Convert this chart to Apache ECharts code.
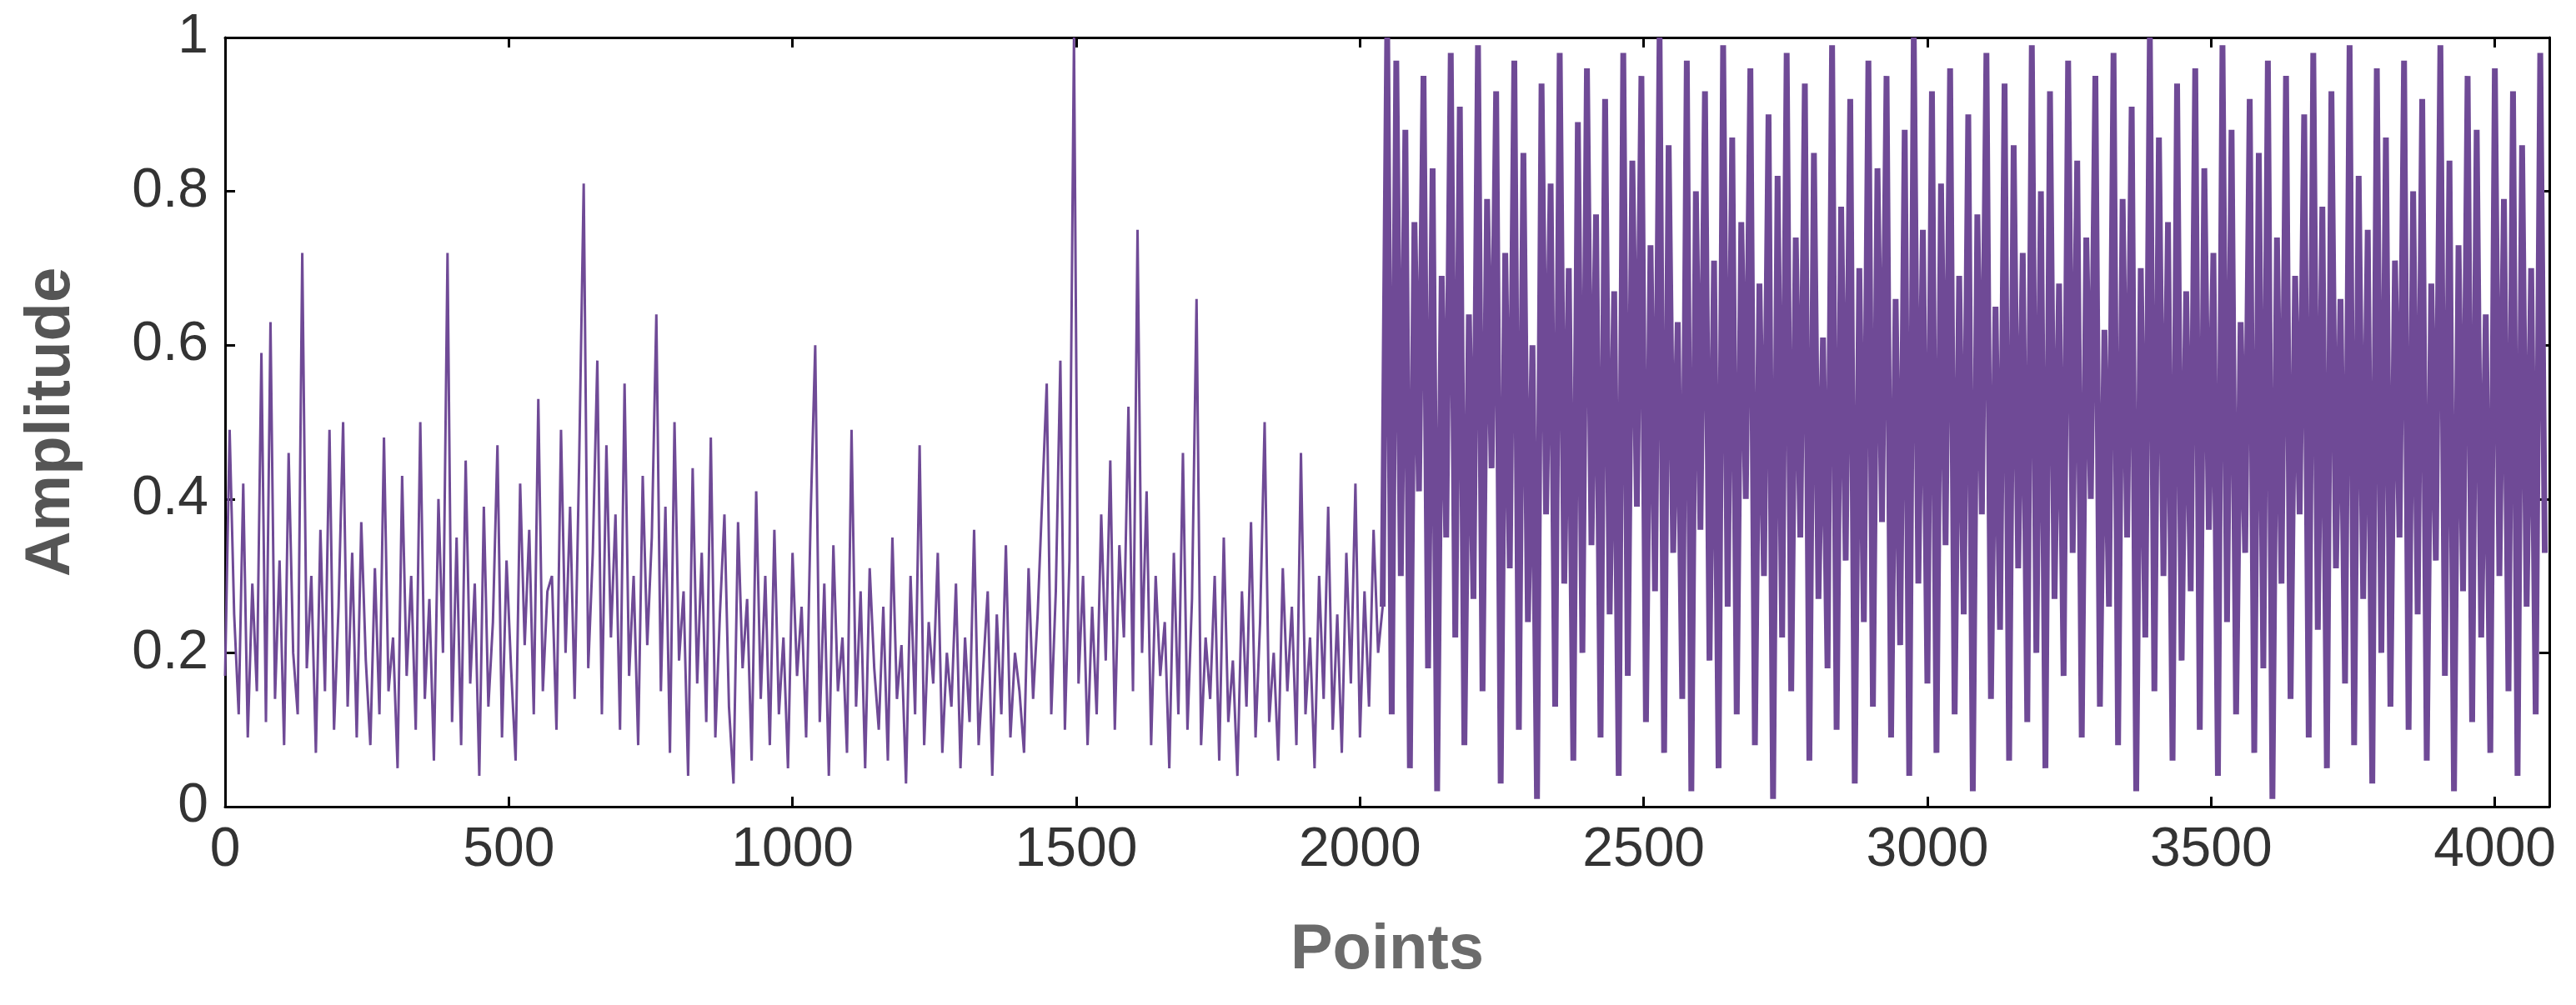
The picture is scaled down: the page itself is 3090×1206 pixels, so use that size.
<!DOCTYPE html>
<html><head><meta charset="utf-8">
<script src="https://cdn.jsdelivr.net/npm/echarts@6/dist/echarts.min.js"></script>
<style>html,body{margin:0;padding:0;background:#fff}#c{width:3090px;height:1206px}</style>
</head><body><div id="c"></div>
<script>
const step = 8;
const lowHalf = [
0.17,0.49,0.25,0.12,0.42,0.09,0.29,0.15,0.59,0.11,0.63,0.14,0.32,0.08,0.46,0.2,
0.12,0.72,0.18,0.3,0.07,0.36,0.15,0.49,0.1,0.26,0.5,0.13,0.33,0.09,0.37,0.19,
0.08,0.31,0.12,0.48,0.15,0.22,0.05,0.43,0.17,0.3,0.1,0.5,0.14,0.27,0.06,0.4,
0.2,0.72,0.11,0.35,0.08,0.45,0.16,0.29,0.04,0.39,0.13,0.24,0.47,0.09,0.32,0.18,
0.06,0.42,0.21,0.36,0.12,0.53,0.15,0.28,0.3,0.1,0.49,0.2,0.39,0.14,0.45,0.81,
0.18,0.33,0.58,0.12,0.47,0.22,0.38,0.1,0.55,0.17,0.3,0.08,0.43,0.21,0.35,0.64,
0.15,0.39,0.07,0.5,0.19,0.28,0.04,0.44,0.16,0.33,0.11,0.48,0.09,0.25,0.38,0.13,
0.03,0.37,0.18,0.27,0.06,0.41,0.14,0.3,0.08,0.36,0.12,0.22,0.05,0.33,0.17,0.26,
0.09,0.38,0.6,0.11,0.29,0.04,0.34,0.15,0.22,0.07,0.49,0.13,0.28,0.05,0.31,0.18,
0.1,0.26,0.06,0.35,0.14,0.21,0.03,0.3,0.12,0.47,0.08,0.24,0.16,0.33,0.07,0.2,
0.13,0.29,0.05,0.22,0.11,0.36,0.08,0.18,0.28,0.04,0.25,0.12,0.34,0.09,0.2,0.15,
0.07,0.31,0.14,0.25,0.4,0.55,0.12,0.28,0.58,0.1,0.32,1.0,0.16,0.3,0.08,0.26,
0.12,0.38,0.19,0.45,0.1,0.34,0.22,0.52,0.15,0.75,0.2,0.41,0.08,0.3,0.17,0.24,
0.05,0.33,0.12,0.46,0.1,0.27,0.66,0.08,0.22,0.14,0.3,0.06,0.35,0.11,0.19,0.04,
0.28,0.13,0.37,0.09,0.24,0.5,0.11,0.2,0.06,0.31,0.15,0.26,0.08,0.46,0.12,0.22,
0.05,0.3,0.14,0.39,0.1,0.25,0.07,0.33,0.16,0.42,0.09,0.28,0.13,0.36,0.2,0.26
];
const highHalf = [
1.0,0.12,0.97,0.3,0.88,0.05,0.76,0.41,0.95,0.18,0.83,0.02,0.69,0.35,0.98,0.22,
0.91,0.08,0.64,0.27,0.99,0.15,0.79,0.44,0.93,0.03,0.72,0.31,0.97,0.1,0.85,0.24,
0.6,0.01,0.94,0.38,0.81,0.13,0.98,0.29,0.7,0.06,0.89,0.2,0.96,0.34,0.77,0.09,
0.92,0.25,0.67,0.04,0.98,0.17,0.84,0.39,0.95,0.11,0.73,0.28,1.0,0.07,0.86,0.33,
0.63,0.14,0.97,0.02,0.8,0.36,0.93,0.19,0.71,0.05,0.99,0.26,0.87,0.12,0.76,0.4,
0.96,0.08,0.68,0.3,0.9,0.01,0.82,0.22,0.98,0.15,0.74,0.35,0.94,0.06,0.85,0.27,
0.61,0.18,0.99,0.1,0.78,0.32,0.92,0.03,0.7,0.24,0.97,0.13,0.83,0.37,0.95,0.09,
0.66,0.21,0.88,0.04,1.0,0.29,0.75,0.16,0.93,0.07,0.81,0.34,0.96,0.12,0.69,0.25,
0.9,0.02,0.77,0.38,0.98,0.14,0.65,0.23,0.94,0.06,0.86,0.31,0.72,0.11,0.99,0.2,
0.8,0.05,0.93,0.27,0.68,0.17,0.97,0.33,0.84,0.09,0.74,0.4,0.95,0.13,0.62,0.26,
0.98,0.08,0.79,0.35,0.91,0.02,0.7,0.22,1.0,0.15,0.87,0.3,0.76,0.06,0.94,0.19,
0.67,0.28,0.96,0.1,0.83,0.36,0.72,0.04,0.99,0.24,0.88,0.12,0.63,0.33,0.92,0.07,
0.85,0.18,0.97,0.01,0.74,0.29,0.95,0.14,0.69,0.38,0.9,0.09,0.98,0.23,0.78,0.05,
0.93,0.31,0.66,0.16,0.99,0.08,0.82,0.27,0.75,0.03,0.96,0.2,0.87,0.13,0.71,0.35,
0.97,0.1,0.8,0.25,0.92,0.06,0.68,0.32,0.99,0.17,0.84,0.02,0.73,0.28,0.95,0.11,
0.88,0.22,0.64,0.07,0.96,0.3,0.79,0.15,0.93,0.04,0.86,0.26,0.7,0.12,0.98,0.33
];
const lowData = lowHalf.map((v,i)=>[i*step, v]);
const highData = [[(lowHalf.length-1)*step, lowHalf[lowHalf.length-1]]].concat(
  highHalf.map((v,i)=>[(lowHalf.length+i)*step, v]));
const F = 'Arial, "Liberation Sans", sans-serif';
const axBase = {
  axisLine:{show:true,onZero:false,lineStyle:{color:'#000',width:3}},
  axisTick:{show:true,inside:true,length:12,lineStyle:{color:'#000',width:3}},
  splitLine:{show:false}
};
const chart = echarts.init(document.getElementById('c'));
chart.setOption({
  animation:false,
  grid:{left:270,right:32,top:45,bottom:238},
  xAxis:[
    Object.assign({type:'value',min:0,max:4096,interval:500,position:'bottom',
      name:'Points',nameLocation:'middle',nameGap:135,
      nameTextStyle:{fontFamily:F,fontSize:76,fontWeight:'bold',color:'#6b6b6b'},
      axisLabel:{fontFamily:F,fontSize:66,color:'#333',margin:20,showMaxLabel:false,
        formatter:v=>String(v)}},axBase),
    Object.assign({type:'value',min:0,max:4096,interval:500,position:'top',axisLabel:{show:false}},axBase)
  ],
  yAxis:[
    Object.assign({type:'value',min:0,max:1,interval:0.2,position:'left',
      name:'Amplitude',nameLocation:'middle',nameGap:170,
      nameTextStyle:{fontFamily:F,fontSize:76,fontWeight:'bold',color:'#555'},
      axisLabel:{fontFamily:F,fontSize:66,color:'#333',margin:20}},axBase),
    Object.assign({type:'value',min:0,max:1,interval:0.2,position:'right',axisLabel:{show:false}},axBase)
  ],
  series:[
    {type:'line',data:lowData,showSymbol:false,lineStyle:{color:'#6f4a96',width:3}},
    {type:'line',data:highData,showSymbol:false,lineStyle:{color:'#6f4a96',width:7}}
  ]
});
</script></body></html>
